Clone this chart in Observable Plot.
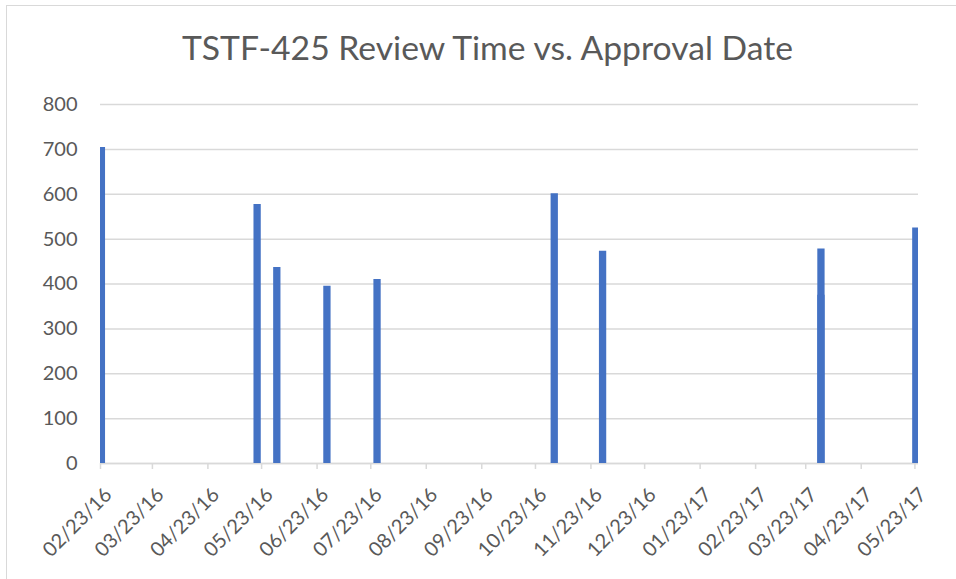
<!DOCTYPE html>
<html><head><meta charset="utf-8">
<script src="https://cdn.jsdelivr.net/npm/d3@7"></script>
<script src="https://cdn.jsdelivr.net/npm/@observablehq/plot@0.6"></script>
<style>
body{margin:0;background:#fff;overflow:hidden}
#wrap{position:relative;width:956px;height:579px;overflow:hidden}
#frame{position:absolute;left:6px;top:5px;width:980px;height:600px;border:1.5px solid #d9d9d9;box-sizing:border-box;}
#title{position:absolute;left:0;width:975px;top:27px;text-align:center;font-family:Lato;font-size:33.7px;color:#595959;white-space:nowrap}
#chart{position:absolute;left:0;top:0}
</style></head>
<body>
<div id="wrap"><div id="frame"></div><div id="chart"></div><div id="title">TSTF-425 Review Time vs. Approval Date</div></div>
<script>
const approvalDates = ["02/23/16","05/20/16","05/31/16","06/28/16","07/26/16","11/02/16","11/29/16","03/31/17","03/31/17","05/23/17"];
const reviewDays = [704,577,437,395,410,601,473,478,375,525];
const tickDates = ["02/23/16","03/23/16","04/23/16","05/23/16","06/23/16","07/23/16","08/23/16","09/23/16","10/23/16","11/23/16","12/23/16","01/23/17","02/23/17","03/23/17","04/23/17","05/23/17"];
const yTicks = [0,100,200,300,400,500,600,700,800];
const axisStart = "02/23/16", axisEnd = "05/25/17";

const parse = d3.utcParse("%m/%d/%y");
const data = approvalDates.map((d,i)=>({date: parse(d), days: reviewDays[i]}));
const tickValues = tickDates.map(parse);
const halfDay = 12*3600*1000;
const chart = Plot.plot({
  width:956, height:579,
  marginLeft:100, marginRight:38, marginTop:104, marginBottom:116,
  style:{fontFamily:"Lato", fontSize:"20px", color:"#595959", background:"transparent"},
  x:{type:"utc", domain:[parse(axisStart), parse(axisEnd)]},
  y:{domain:[0,800]},
  marks:[
    Plot.gridY(yTicks,{stroke:"#d9d9d9", strokeOpacity:1, strokeWidth:1.5}),
    Plot.axisY(yTicks,{tickSize:0, tickPadding:23, fontSize:20, fill:"#595959", label:null}),
    Plot.ruleY([0],{stroke:"#d9d9d9", strokeWidth:1.5}),
    Plot.axisX(tickValues,{tickFormat:()=>"", tickSize:6, stroke:"#d9d9d9", strokeOpacity:1, strokeWidth:1.5, label:null}),
    Plot.axisX(tickValues,{tickFormat:"%m/%d/%y", tickRotate:-45, tickSize:0, tickPadding:28, dx:8, fontSize:20, fill:"#595959", label:null}),
    Plot.ruleX(data,{x:d=>new Date(+d.date+halfDay), y1:0, y2:"days", stroke:"#4472C4", strokeWidth:7.3, clip:true})
  ]
});
document.getElementById("chart").appendChild(chart);
</script>
</body></html>
